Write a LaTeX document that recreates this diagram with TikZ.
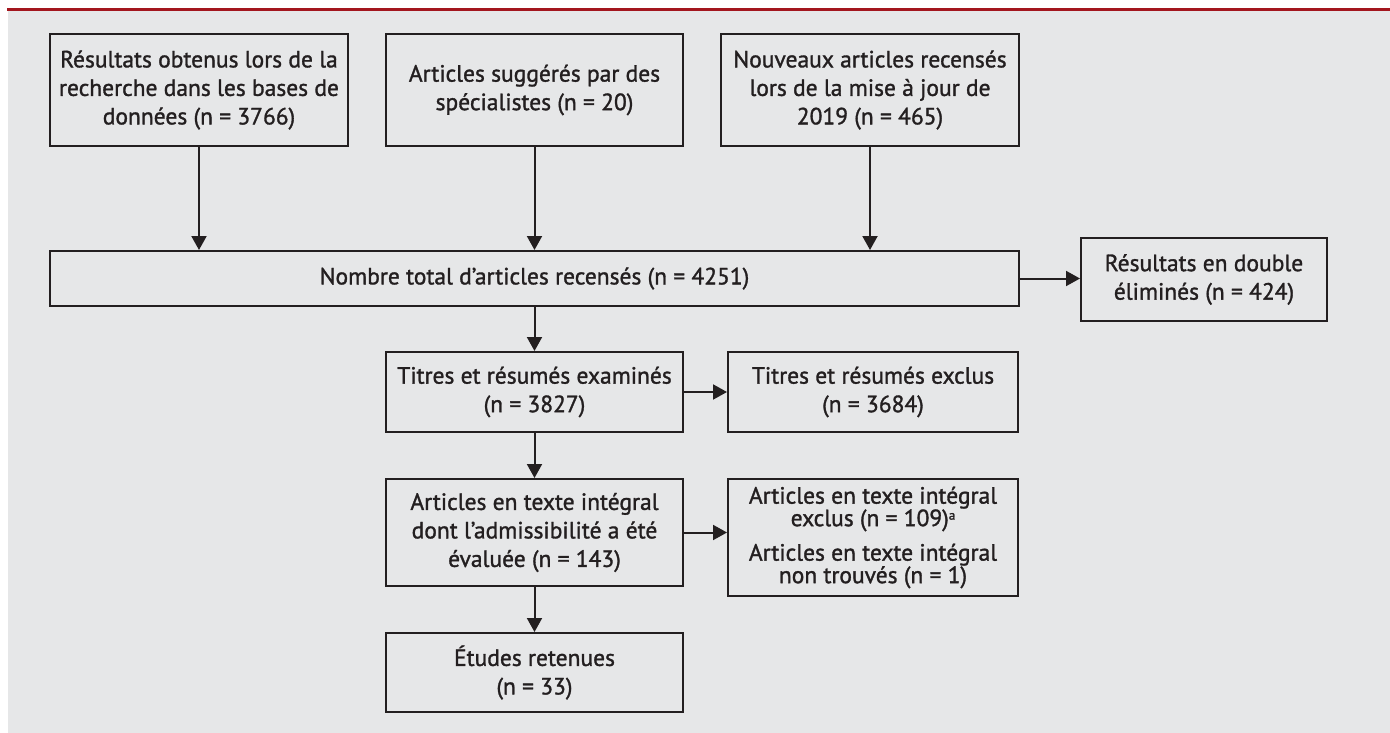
\documentclass[tikz,border=0pt]{standalone}
\usepackage{fontspec}
\setmainfont{PT Sans}[FakeBold=1.3]
\usetikzlibrary{arrows.meta}
\definecolor{bg}{HTML}{E6E7E8}
\definecolor{redline}{HTML}{A3161E}
\definecolor{ink}{HTML}{231F20}
\newcommand{\supa}{\raisebox{0.55ex}{\fontsize{13}{13}\selectfont a}}
\begin{document}
\begin{tikzpicture}[x=1pt,y=-1pt,
  box/.style={draw=ink, line width=2pt, align=center, inner sep=0pt, text=ink,
              font=\fontsize{23.5}{28.5}\selectfont},
  tight/.style={font=\fontsize{23.5}{22.5}\selectfont},
  arr/.style={draw=ink, line width=2pt, -{Triangle[length=14pt,width=15pt]}}]
\useasboundingbox (0,0) rectangle (1390,733);
\fill[white] (0,0) rectangle (1390,733);
\fill[bg] (8,11) rectangle (1390,733);
\draw[redline, line width=3pt] (7,9.5) -- (1390,9.5);

\node[box, minimum width=298pt, minimum height=112pt] (b1) at (199,90)
  {Résultats obtenus lors de la\\recherche dans les bases de\\données (n = 3766)};
\node[box, minimum width=297pt, minimum height=112pt] (b2) at (534.5,90)
  {Articles suggérés par des\\spécialistes (n = 20)};
\node[box, minimum width=298pt, minimum height=112pt] (b3) at (870,90)
  {Nouveaux articles recensés\\lors de la mise à jour de\\2019 (n = 465)};
\node[box, minimum width=969pt, minimum height=55pt] (big) at (534.5,278.5)
  {Nombre total d’articles recensés (n = 4251)};
\node[box, minimum width=246pt, minimum height=83pt] (dup) at (1204,279.5)
  {Résultats en double\\éliminés (n = 424)};
\node[box, minimum width=297pt, minimum height=80pt] (te) at (534.5,392)
  {Titres et résumés examinés\\(n = 3827)};
\node[box, minimum width=290pt, minimum height=80pt] (tx) at (873,392)
  {Titres et résumés exclus\\(n = 3684)};
\node[box, minimum width=297pt, minimum height=107pt] (ft) at (534.5,532.5)
  {Articles en texte intégral\\dont l’admissibilité a été\\évaluée (n = 143)};
\node[box, tight, minimum width=290pt, minimum height=117pt] (fx) at (873,537.5)
  {Articles en texte intégral\\exclus (n = 109)\supa\\[12pt]Articles en texte intégral\\non trouvés (n = 1)};
\node[box, minimum width=297pt, minimum height=79pt] (er) at (534.5,672.5)
  {Études retenues\\(n = 33)};

\draw[arr] (b1.south) -- (b1.south |- big.north);
\draw[arr] (b2.south) -- (b2.south |- big.north);
\draw[arr] (b3.south) -- (b3.south |- big.north);
\draw[arr] (big.east) -- (big.east -| dup.west);
\draw[arr] (big.south) -- (te.north);
\draw[arr] (te.east) -- (te.east -| tx.west);
\draw[arr] (te.south) -- (ft.north);
\draw[arr] (ft.east) -- (ft.east -| fx.west);
\draw[arr] (ft.south) -- (er.north);
\end{tikzpicture}
\end{document}
